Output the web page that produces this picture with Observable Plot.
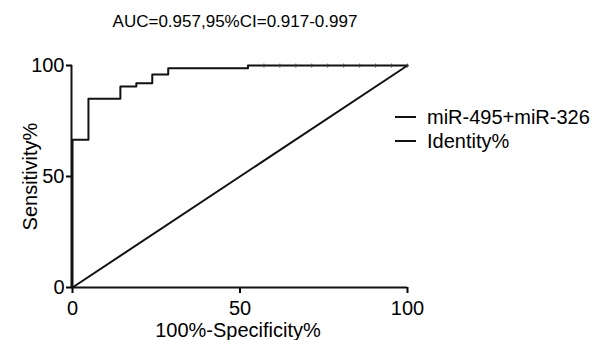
<!DOCTYPE html>
<html>
<head>
<meta charset="utf-8">
<script src="https://cdn.jsdelivr.net/npm/d3@7"></script>
<script src="https://cdn.jsdelivr.net/npm/@observablehq/plot@0.6"></script>
<style>
  html, body { margin: 0; padding: 0; background: #fff; }
  #wrap { position: relative; width: 595px; height: 340px; overflow: hidden; font-family: "Liberation Sans", Arial, sans-serif; color: #000; }
  #title { position: absolute; top: 12px; left: 0; width: 470px; text-align: center; font-size: 17px; }
  #legend { position: absolute; left: 395px; top: 105px; font-size: 20px; line-height: 24px; }
  #legend div { display: flex; align-items: center; }
  #legend svg { margin-right: 11px; }
</style>
</head>
<body>
<div id="wrap">
  <div id="chart"></div>
  <div id="title"></div>
  <div id="legend"></div>
</div>
<script>
// ROC data (percent)
const fpr = [0, 0, 4.76, 14.29, 19.05, 23.81, 28.57, 52.38, 100];
const tpr = [0, 66.5, 85, 90.5, 92, 96, 98.8, 100, 100];
// control-point markers on the top plateau
const tickFpr = [57.14, 61.9, 66.67, 71.43, 76.19, 80.95, 85.71, 90.48, 95.24, 100];
const identityX = [0, 100];
const identityY = [0, 100];
const xTicks = [0, 50, 100];
const yTicks = [0, 50, 100];
const seriesNames = ["miR-495+miR-326", "Identity%"];
const titleText = "AUC=0.957,95%CI=0.917-0.997";
const xLabel = "100%-Specificity%";
const yLabel = "Sensitivity%";

const roc = fpr.map((x, i) => ({x, y: tpr[i]}));
const ident = identityX.map((x, i) => ({x, y: identityY[i]}));
const marks = tickFpr.map(x => ({x, y: 100}));

const tickShape = { draw(ctx, l) { ctx.moveTo(0, 0); ctx.lineTo(0, -l); } };

const chart = Plot.plot({
  width: 595,
  height: 340,
  marginLeft: 72,
  marginRight: 188,
  marginTop: 65,
  marginBottom: 53,
  style: { fontFamily: "Liberation Sans, Arial, sans-serif", fontSize: "20px", color: "#000", background: "#fff" },
  x: { domain: [0, 100], label: null },
  y: { domain: [0, 100], label: null },
  marks: [
    Plot.axisX({ ticks: xTicks, tickSize: 6, tickPadding: 7, fontSize: 20, strokeWidth: 2, label: null }),
    Plot.axisY({ ticks: yTicks, tickSize: 6, tickPadding: 2, fontSize: 20, strokeWidth: 2, label: null }),
    Plot.text([xLabel], { frameAnchor: "bottom", lineAnchor: "middle", dy: 43, dx: -2, fontSize: 20, text: d => d }),
    Plot.text([yLabel], { frameAnchor: "left", textAnchor: "middle", lineAnchor: "middle", dx: -42, rotate: -90, fontSize: 20, text: d => d }),
    Plot.ruleX([0], { stroke: "#111", strokeWidth: 2, dx: -1 }),
    Plot.ruleY([0], { stroke: "#111", strokeWidth: 2 }),
    Plot.line(ident, { x: "x", y: "y", stroke: "#111", strokeWidth: 2 }),
    Plot.line(roc, { x: "x", y: "y", curve: "step-after", stroke: "#111", strokeWidth: 2 }),
    Plot.vector(marks, { x: "x", y: "y", length: 3, rotate: 0, anchor: "middle", shape: tickShape, stroke: "#444", strokeWidth: 1.2 })
  ]
});
document.getElementById("chart").appendChild(chart);

document.getElementById("title").textContent = titleText;
const legend = document.getElementById("legend");
seriesNames.forEach(name => {
  const row = document.createElement("div");
  row.innerHTML = `<svg width="21" height="10"><line x1="0" x2="21" y1="5" y2="5" stroke="#111" stroke-width="2"/></svg><span>${name}</span>`;
  legend.appendChild(row);
});
</script>
</body>
</html>
